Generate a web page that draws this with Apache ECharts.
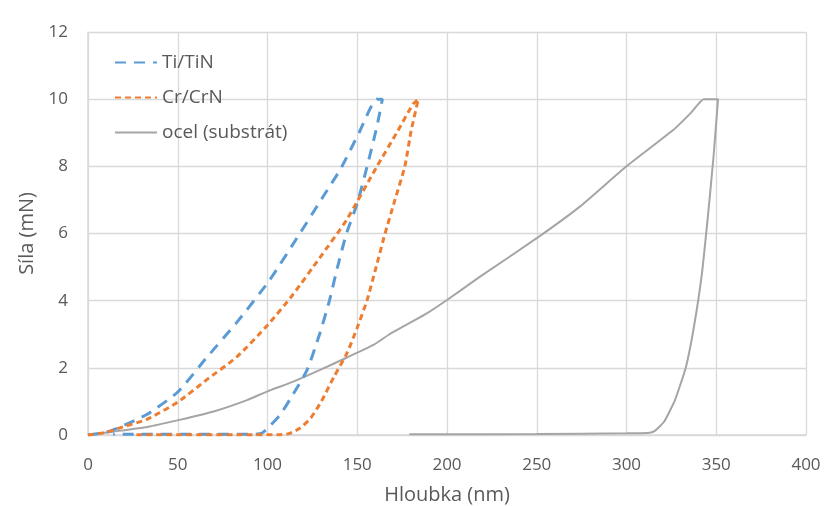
<!DOCTYPE html>
<html>
<head>
<meta charset="utf-8">
<script src="https://cdn.jsdelivr.net/npm/echarts@6/dist/echarts.min.js"></script>
<style>
  html, body { margin: 0; padding: 0; background: #fff; }
  #chart { width: 828px; height: 506px; }
</style>
</head>
<body>
<div id="chart"></div>
<script>
// osa x: hloubka (nm), osa y: síla (mN)
var xTicks = [0, 50, 100, 150, 200, 250, 300, 350, 400];
var yTicks = [0, 2, 4, 6, 8, 10, 12];
var seriesNames = ['Ti/TiN', 'Cr/CrN', 'ocel (substrát)'];

// Ti/TiN - zatěžování a odlehčení
var tiLoad = [[0, 0], [10, 0.08], [18, 0.24], [33, 0.62], [50, 1.28], [66, 2.3], [83, 3.36],
  [101, 4.6], [118, 6.0], [131, 7.1], [141, 7.95], [151, 9.0], [161, 10]];
var tiUnload = [[164, 10], [161, 9.2], [156, 8.1], [150, 6.9], [144, 6.0], [139, 5.0],
  [134.5, 4.0], [129, 3.0], [122, 1.93], [113, 1.1], [107, 0.6], [101, 0.25], [97, 0.06],
  [92, 0.02], [14, 0.02]];

// Cr/CrN
var crLoad = [[0, 0], [10, 0.08], [19.5, 0.24], [33, 0.47], [50, 0.98], [66, 1.64], [83, 2.33],
  [100, 3.27], [114, 4.17], [129, 5.27], [144, 6.4], [161, 8.0], [172, 9.0], [181, 9.85], [184, 10]];
var crUnload = [[184, 10], [180, 9.05], [176.5, 8.0], [171, 7.0], [165.5, 6.0], [160.5, 5.0],
  [155.4, 4.0], [150, 3.2], [144.3, 2.44], [137, 1.73], [130, 1.0], [124, 0.5],
  [118, 0.2], [112, 0.04], [106, 0.01], [27, 0.01]];

// ocel (substrát)
var steelLoad = [[0, 0], [14, 0.1], [33, 0.24], [51, 0.45], [70, 0.7], [88.6, 1.04], [100, 1.3],
  [114, 1.58], [129, 1.93], [144, 2.3], [159, 2.68], [168, 3.0], [178, 3.3], [189, 3.63],
  [200, 4.02], [218, 4.7], [250, 5.86], [274, 6.8], [300, 8.0], [326, 9.08], [336, 9.6],
  [343, 10], [351, 10]];
var steelUnload = [[351, 10], [348.5, 8.3], [345.5, 6.6], [342, 4.8], [337.5, 3.2], [333, 2.0],
  [327, 1.04], [321, 0.4], [316, 0.13], [313, 0.07], [300, 0.05], [250, 0.03], [179, 0.02]];

var textColor = '#595959';
var gridColor = '#d9d9d9';
var fontFamily = '"Open Sans", "Noto Sans", sans-serif';

var myChart = echarts.init(document.getElementById('chart'));
var option = {
    animation: false,
    textStyle: { fontFamily: fontFamily },
    grid: {
        left: 88,
        right: 22,
        top: 32,
        bottom: 71,
        outerBoundsMode: 'none'
    },
    legend: {
        orient: 'vertical',
        left: 109,
        top: 48,
        itemWidth: 42,
        itemHeight: 14,
        itemGap: 16,
        data: seriesNames,
        // jen čára, bez značky
        itemStyle: { color: 'rgba(0,0,0,0)', borderWidth: 0 },
        textStyle: { color: textColor, fontSize: 19, fontFamily: fontFamily }
    },
    xAxis: {
        type: 'value',
        min: xTicks[0],
        max: xTicks[xTicks.length - 1],
        interval: 50,
        name: 'Hloubka (nm)',
        nameLocation: 'middle',
        nameGap: 50,
        nameTextStyle: { color: textColor, fontSize: 20 },
        axisLine: { show: true, lineStyle: { color: gridColor, width: 1.5 } },
        axisTick: { show: false },
        axisLabel: { color: textColor, fontSize: 17, margin: 22 },
        splitLine: { show: true, lineStyle: { color: gridColor, width: 1.3 } }
    },
    yAxis: {
        type: 'value',
        min: yTicks[0],
        max: yTicks[yTicks.length - 1],
        interval: 2,
        name: 'Síla (mN)',
        nameLocation: 'middle',
        nameGap: 45,
        nameTextStyle: { color: textColor, fontSize: 20 },
        axisLine: { show: true, lineStyle: { color: gridColor, width: 1.5 } },
        axisTick: { show: false },
        axisLabel: { color: textColor, fontSize: 17, margin: 20 },
        splitLine: { show: true, lineStyle: { color: gridColor, width: 1.3 } }
    },
    series: [{
        name: seriesNames[0],
        type: 'line',
        data: tiLoad.concat(tiUnload),
        symbol: 'none',
        smooth: 0.2,
        z: 3,
        lineStyle: { color: '#5b9bd5', width: 3, type: [11, 8] },
        itemStyle: { color: '#5b9bd5' }
    }, {
        name: seriesNames[1],
        type: 'line',
        data: crLoad.concat(crUnload),
        symbol: 'none',
        smooth: 0.2,
        z: 4,
        lineStyle: { color: '#ed7d31', width: 3, type: [6, 4] },
        itemStyle: { color: '#ed7d31' }
    }, {
        name: seriesNames[2],
        type: 'line',
        data: steelLoad.concat(steelUnload),
        symbol: 'none',
        smooth: 0.15,
        z: 2,
        lineStyle: { color: '#a5a5a5', width: 2, type: 'solid' },
        itemStyle: { color: '#a5a5a5' }
    }]
};
myChart.setOption(option);
</script>
</body>
</html>
